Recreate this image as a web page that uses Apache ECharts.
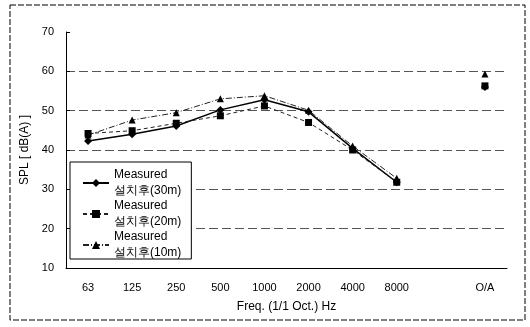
<!DOCTYPE html>
<html>
<head>
<meta charset="utf-8">
<script src="https://cdn.jsdelivr.net/npm/echarts@6/dist/echarts.min.js"></script>
<style>
html,body{margin:0;padding:0;background:#fff;}
#c{width:530px;height:327px;}
</style>
</head>
<body>
<div id="c"></div>
<script>
var categories = ['63', '125', '250', '500', '1000', '2000', '4000', '8000', '', 'O/A'];
var yTicks = [10, 20, 30, 40, 50, 60, 70];
var seriesNames = ['Measured\n설치후(30m)', 'Measured\n설치후(20m)', 'Measured\n설치후(10m)'];
var s30 = [42.3, 44.0, 46.1, 50.2, 52.8, 49.7, 40.4, 31.8, null, 56.0];
var s20 = [44.2, 44.9, 46.8, 48.7, 51.2, 47.0, 40.0, 31.8, null, 56.3];
var s10 = [43.8, 47.6, 49.5, 53.0, 53.8, 50.1, 41.0, 32.8, null, 59.3];

var font = "'Liberation Sans Narrow', 'Liberation Sans', Arial, sans-serif";
var chart = echarts.init(document.getElementById('c'), null, {renderer: 'canvas'});
chart.setOption({
  backgroundColor: '#fff',
  animation: false,
  graphic: [{
    type: 'rect', shape: {x: 10, y: 5, width: 515, height: 315},
    style: {fill: 'none', stroke: '#000', lineWidth: 1, lineDash: [6, 2]}
  }],
  grid: {left: 66, right: 23, top: 32, bottom: 59},
  legend: {
    orient: 'vertical', left: 70, top: 162,
    data: seriesNames,
    backgroundColor: '#fff',
    borderColor: '#000', borderWidth: 1, borderRadius: 0,
    padding: [7, 10, 0, 12],
    itemWidth: 26, itemHeight: 10, itemGap: 3,
    textStyle: {fontFamily: font, fontSize: 12, color: '#000', lineHeight: 16,
      verticalAlign: 'top', padding: [-7, 0, 0, 0]}
  },
  xAxis: {
    type: 'category', data: categories, boundaryGap: true,
    name: 'Freq. (1/1 Oct.) Hz', nameLocation: 'middle', nameGap: 33,
    nameTextStyle: {fontFamily: font, fontSize: 12, color: '#000'},
    axisLine: {lineStyle: {color: '#000', width: 1}},
    axisTick: {inside: true, length: 3, lineStyle: {color: '#000'}},
    axisLabel: {fontFamily: font, fontSize: 11, color: '#000', margin: 14, interval: 0},
    splitLine: {show: false}
  },
  yAxis: {
    type: 'value', min: yTicks[0], max: yTicks[yTicks.length - 1], interval: 10,
    name: 'SPL [ dB(A) ]', nameLocation: 'middle', nameGap: 26,
    nameTextStyle: {fontFamily: font, fontSize: 12, color: '#000'},
    axisLine: {show: true, lineStyle: {color: '#000', width: 1}},
    axisTick: {show: true, inside: true, length: 4, lineStyle: {color: '#000'}},
    axisLabel: {fontFamily: font, fontSize: 11, color: '#000', margin: 12},
    splitLine: {show: true, showMaxLine: false, showMinLine: false,
      lineStyle: {color: '#555', width: 1, type: [9, 4]}}
  },
  series: [
    {name: seriesNames[0], type: 'line', data: s30, symbol: 'diamond', symbolSize: 8,
     itemStyle: {color: '#000'}, lineStyle: {color: '#000', width: 1.5, type: 'solid'}, connectNulls: false},
    {name: seriesNames[1], type: 'line', data: s20, symbol: 'rect', symbolSize: 7,
     itemStyle: {color: '#000'}, lineStyle: {color: '#222', width: 1, type: [4, 3]}, connectNulls: false},
    {name: seriesNames[2], type: 'line', data: s10, symbol: 'triangle', symbolSize: 7,
     itemStyle: {color: '#000'}, lineStyle: {color: '#222', width: 1, type: [6, 2, 1, 2]}, connectNulls: false}
  ]
});
</script>
</body>
</html>
